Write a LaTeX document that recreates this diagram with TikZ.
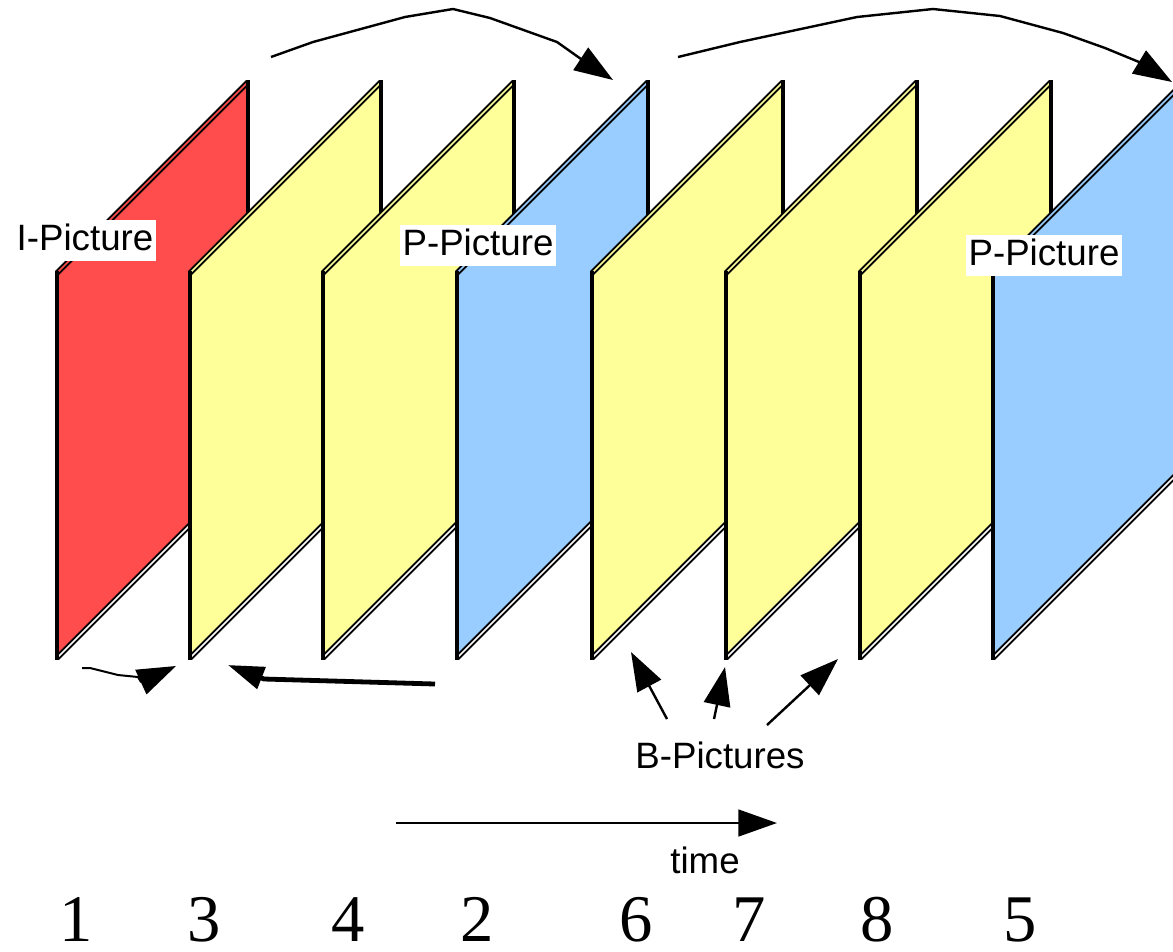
\documentclass[tikz,border=0pt]{standalone}
\usepackage{fontspec}
\setmainfont{Liberation Serif}
\newfontfamily\labelfont{Liberation Sans}
\usetikzlibrary{arrows.meta}

% picture types
\definecolor{iframe}{RGB}{255,77,77}
\definecolor{bframe}{RGB}{255,255,153}
\definecolor{pframe}{RGB}{153,204,255}

\begin{document}
\begin{tikzpicture}[x=0.75pt,y=-0.75pt,
  edge/.style={draw=black, line width=1.5pt, double distance=1.1pt},
  side/.style={draw=black, line width=3.6pt, line cap=rect},
  lbl/.style={font=\labelfont\fontsize{27.5}{30}\selectfont, fill=white,
    inner xsep=2pt, inner ysep=1.5pt, text height=21pt, text depth=6.8pt, anchor=base},
  plain/.style={font=\labelfont\fontsize{27.5}{30}\selectfont, inner sep=0pt, anchor=base},
  num/.style={font=\fontsize{50}{55}\selectfont, anchor=base, inner sep=0pt},
  link/.style={draw=black, line width=1.8pt, line join=round,
    -{Triangle[length=29pt,width=20pt]}},
  thin link/.style={link, line width=1.5pt},
  heavy link/.style={link, line width=3.6pt, -{Triangle[length=27pt,width=17pt]}},
]
\useasboundingbox (0,0) rectangle (1173,951);
\clip (0,0) rectangle (1173,951);

% the sequence of pictures, each one in front of the previous
\foreach \L/\c [count=\i] in {57/iframe,190/bframe,323/bframe,457/pframe,592/bframe,726/bframe,860/bframe,993/pframe} {
  \coordinate (f\i bl) at (\L,658);
  \coordinate (f\i tl) at (\L,273);
  \coordinate (f\i tr) at (\L+191,82);
  \coordinate (f\i br) at (\L+191,467);
  \fill[\c] (f\i bl) -- (f\i tl) -- (f\i tr) -- (f\i br) -- cycle;
  \draw[edge, double=\c] (f\i tl) -- (f\i tr);
  \draw[edge, double=white] (f\i bl) -- (f\i br);
  \draw[side] (f\i bl) -- (f\i tl);
  \draw[side] (f\i br) -- (f\i tr);
}

% forward prediction arcs
\coordinate (fwd1s) at (271,57);
\coordinate (fwd1e) at (613,80);
\coordinate (fwd2s) at (678,57);
\coordinate (fwd2e) at (1172,82);
\draw[link] (fwd1s) -- (313,42) -- (405,17) -- (453,9) -- (490,18) -- (557,42) -- (581,59) -- (fwd1e);
\draw[link] (fwd2s) -- (740,42) -- (857,17) -- (933,9) -- (1000,16) -- (1063,33) -- (1105,48) -- (1139,62) -- (fwd2e);

% backward references below the pictures
\coordinate (bk1s) at (82,668);
\coordinate (bk1e) at (176,666);
\coordinate (bk2s) at (435,684);
\coordinate (bk2e) at (228,665);
\draw[thin link] (bk1s) -- (90,668) -- (102,671) -- (118,675) -- (138,677) -- (141,682) -- (bk1e);
\draw[heavy link] (bk2s) -- (264,679) -- (bk2e);

% labels
\node[lbl] (ipic) at (85,250) {I-Picture};
\node[lbl] (ppic1) at (478,255) {P-Picture};
\node[lbl] (ppic2) at (1044,265) {P-Picture};
\node[plain] (bpic) at (720,768) {B-Pictures};
\node[plain] (time) at (705,873) {time};

% pointers to the B-pictures
\coordinate (b1s) at (667,719);
\coordinate (b1e) at (631,652);
\coordinate (b2s) at (714,719);
\coordinate (b2e) at (725,667);
\coordinate (b3s) at (767,725);
\coordinate (b3e) at (838,659);
\draw[link] (b1s) -- (b1e);
\draw[link] (b2s) -- (b2e);
\draw[link] (b3s) -- (b3e);

% time axis
\coordinate (t0) at (396,823);
\coordinate (t1) at (777,823);
\draw[link, line width=2pt] (t0) -- (t1);

% transmission order
\node[num] (n1) at (76,941) {1};
\node[num] (n3) at (204,941) {3};
\node[num] (n4) at (348,941) {4};
\node[num] (n2) at (477,941) {2};
\node[num] (n6) at (636,941) {6};
\node[num] (n7) at (749,941) {7};
\node[num] (n8) at (877,941) {8};
\node[num] (n5) at (1020,941) {5};
\end{tikzpicture}
\end{document}
